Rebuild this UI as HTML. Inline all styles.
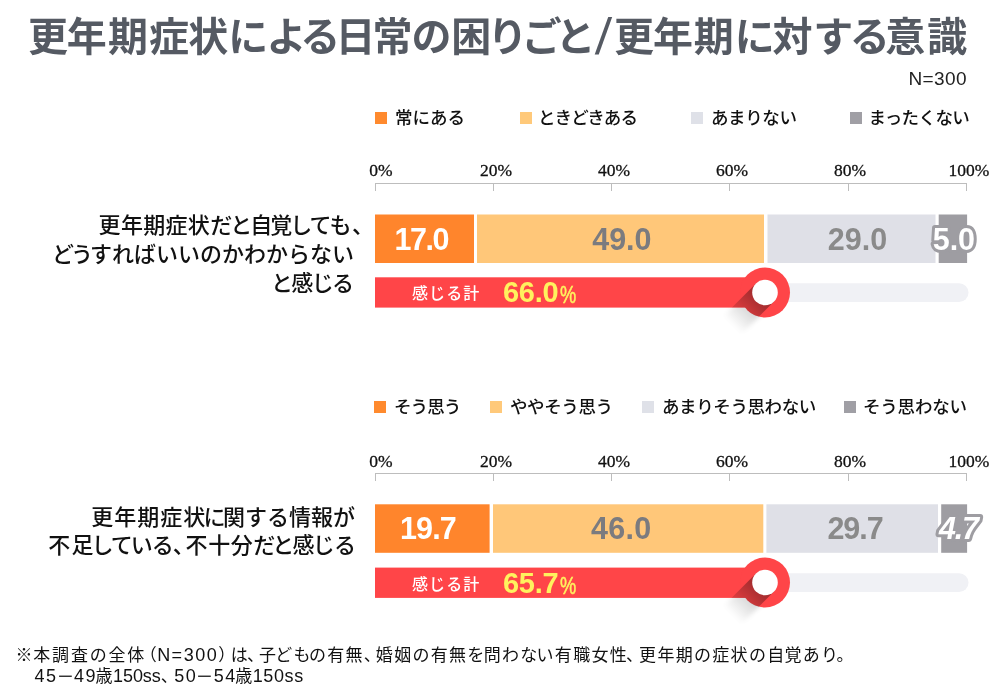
<!DOCTYPE html>
<html lang="ja">
<head>
<meta charset="utf-8">
<title>更年期症状による日常の困りごと/更年期に対する意識</title>
<style>
html,body{margin:0;padding:0;background:#fff;}
body{width:1000px;height:697px;position:relative;overflow:hidden;
 font-family:"Liberation Sans","Noto Sans CJK JP",sans-serif;color:#111;}
.abs{position:absolute;white-space:nowrap;}
.title{left:27.92px;top:9px;font-size:40px;line-height:56px;font-weight:700;color:#555a63;
 font-family:"Liberation Sans","Noto Sans CJK JP",sans-serif;}
.title .sl{display:inline-block;width:17.5px;text-align:center;font-size:51px;line-height:40px;font-weight:400;transform:skewX(-5deg);position:relative;top:3px;text-indent:-1px;}
.n300{right:33px;top:66.5px;font-size:19px;line-height:24px;color:#222;font-weight:400;letter-spacing:0.4px;}
.lg{font-size:17.5px;line-height:24px;font-weight:500;color:#111;}
.sq{position:absolute;width:12px;height:12px;}
.ax{font-family:"Liberation Serif",serif;font-size:17.5px;line-height:18px;color:#111;transform:translateX(-50%);-webkit-text-stroke:0.3px #111;}
.axl{position:absolute;background:#bdbdbd;}
.lab{font-size:22px;line-height:29px;font-weight:500;color:#111;text-align:right;}
.seg{position:absolute;height:48.3px;}
.num{position:absolute;font-family:"Liberation Sans",sans-serif;font-weight:700;font-size:30.5px;line-height:48.3px;text-align:left;white-space:nowrap;}
.otx{font-family:"Liberation Sans",sans-serif;font-weight:700;font-size:30.5px;fill:#fff;stroke:#9e9da2;stroke-width:6px;stroke-linejoin:round;paint-order:stroke fill;}
.kanji{font-size:16px;line-height:30.3px;color:#fff;font-weight:500;letter-spacing:1.1px;}
.pct{font-family:"Liberation Sans",sans-serif;font-weight:700;font-size:29px;line-height:30.3px;color:#fff25e;letter-spacing:-0.3px;}
.pct small{font-size:24px;font-weight:400;display:inline-block;transform:scaleX(.76);transform-origin:0 50%;margin-left:1.5px;position:relative;top:1px;-webkit-text-stroke:0.5px #fff25e;}
.note{font-size:17px;line-height:22px;color:#111;font-weight:400;letter-spacing:1.3px;}
.note .la{letter-spacing:1.5px;font-size:18px;}
.note .cm{letter-spacing:-5px;}
.note .p1{letter-spacing:0.5px;}
.note .p2{letter-spacing:-4.5px;}
.note .mn{display:inline-block;letter-spacing:0;font-size:18px;transform:scaleX(1.45);margin:0 4px 0 2px;}
.note .lb{letter-spacing:-0.1px;font-size:18px;}
</style>
</head>
<body>
<div class="abs title"><span style="letter-spacing:-1.14px">更</span><span style="letter-spacing:1.12px">年</span><span style="letter-spacing:1.15px">期</span><span style="letter-spacing:-0.87px">症</span><span style="letter-spacing:0.00px">状</span><span style="letter-spacing:-1.81px">に</span><span style="letter-spacing:-6.24px">よ</span><span style="letter-spacing:-4.61px">る</span><span style="letter-spacing:-3.02px">日</span><span style="letter-spacing:-1.05px">常</span><span style="letter-spacing:-0.32px">の</span><span style="letter-spacing:-3.63px">困</span><span style="letter-spacing:-5.95px">り</span><span style="letter-spacing:-6.05px">ご</span><span style="letter-spacing:0.00px">と</span><span class="sl" style="margin:0 1.43px 0 -0.55px">/</span><span style="letter-spacing:-1.05px">更</span><span style="letter-spacing:0.77px">年</span><span style="letter-spacing:0.95px">期</span><span style="letter-spacing:-2.05px">に</span><span style="letter-spacing:0.60px">対</span><span style="letter-spacing:-3.55px">す</span><span style="letter-spacing:-4.40px">る</span><span style="letter-spacing:2.05px">意</span><span style="letter-spacing:0.00px">識</span></div>
<div class="abs n300">N=300</div>

<!-- legend 1 -->
<div class="sq" style="left:375px;top:112px;background:#ff8a2e"></div>
<div class="abs lg" style="left:395px;top:105.5px">常にある</div>
<div class="sq" style="left:520px;top:112px;background:#ffc97a"></div>
<div class="abs lg" style="left:538px;top:105.5px;letter-spacing:-0.9px">ときどきある</div>
<div class="sq" style="left:691px;top:112px;background:#dfe1e8"></div>
<div class="abs lg" style="left:711px;top:105.5px;letter-spacing:-0.4px">あまりない</div>
<div class="sq" style="left:850px;top:112px;background:#a09fa5"></div>
<div class="abs lg" style="left:868.5px;top:105.5px;letter-spacing:-0.6px">まったくない</div>

<!-- axis 1 -->
<div class="abs ax" style="left:381px;top:161px">0%</div>
<div class="abs ax" style="left:496px;top:161px">20%</div>
<div class="abs ax" style="left:614px;top:161px">40%</div>
<div class="abs ax" style="left:732px;top:161px">60%</div>
<div class="abs ax" style="left:850px;top:161px">80%</div>
<div class="abs ax" style="left:969px;top:161px">100%</div>
<div class="axl" style="left:375px;top:183px;width:592px;height:1px"></div>
<div class="axl" style="left:375px;top:183px;width:1px;height:8px"></div>
<div class="axl" style="left:493px;top:183px;width:1px;height:8px"></div>
<div class="axl" style="left:611px;top:183px;width:1px;height:8px"></div>
<div class="axl" style="left:729px;top:183px;width:1px;height:8px"></div>
<div class="axl" style="left:848px;top:183px;width:1px;height:8px"></div>
<div class="axl" style="left:966px;top:183px;width:1px;height:8px"></div>

<!-- labels 1 -->
<div class="abs lab" style="right:626px;top:211.2px"><span style="letter-spacing:0.3px">更年期症状</span><span style="letter-spacing:-2px">だと自覚して</span><span style="letter-spacing:0.5px">も</span>、</div>
<div class="abs lab" style="right:646px;top:240px"><span style="letter-spacing:-3px">どう</span><span style="letter-spacing:0px">すればいいのかわからない</span></div>
<div class="abs lab" style="right:647.5px;top:269px"><span style="letter-spacing:-1.6px">と感じる</span></div>

<!-- bar 1 -->
<svg class="abs" style="left:0;top:0" width="1000" height="697"><rect x="375" y="214.5" width="99" height="48.5" fill="#ff852c"/><rect x="477" y="214.5" width="287" height="48.5" fill="#ffc779"/><rect x="767.5" y="214.5" width="168" height="48.5" fill="#dfe0e7"/><rect x="938.7" y="214.5" width="28.4" height="48.5" fill="#9e9da2"/></svg>
<div class="num" style="left:394.6px;top:214.5px;color:#fff;letter-spacing:-1.5px">17.0</div>
<div class="num" style="left:592.2px;top:214.5px;color:#7b7b7f;letter-spacing:0px">49.0</div>
<div class="num" style="left:827.8px;top:214.5px;color:#8a8a8a;letter-spacing:0px">29.0</div>
<svg class="abs" style="left:920px;top:214.5px" width="80" height="48.3"><text class="otx" x="12.7" y="34.9">5.0</text></svg>

<svg class="abs" style="left:370px;top:255px" width="610" height="90" viewBox="370 255 610 90">
 <defs>
  <linearGradient id="sg1" gradientUnits="userSpaceOnUse" x1="758" y1="299.5" x2="732" y2="325.5">
   <stop offset="0" stop-color="#000" stop-opacity=".34"/><stop offset="1" stop-color="#000" stop-opacity="0"/>
  </linearGradient>
  <clipPath id="rc1"><circle cx="765" cy="292.5" r="25"/><rect x="690" y="277.3" width="75" height="30.3"/></clipPath>
  <filter id="bl1" x="-30%" y="-30%" width="160%" height="160%"><feGaussianBlur stdDeviation="2.5"/></filter>
 </defs>
 <rect x="740" y="283.3" width="228.5" height="18.8" rx="9.4" fill="#f0f1f5"/>
 <polygon points="755.95,283.45 774.05,301.55 714.05,361.55 695.95,343.45" fill="url(#sg1)" filter="url(#bl1)" opacity=".7"/>
 <rect x="375" y="277.3" width="390" height="30.3" fill="#ff4548"/>
 <circle cx="765" cy="292.5" r="25" fill="#ff4548"/>
 <polygon points="755.95,283.45 774.05,301.55 714.05,361.55 695.95,343.45" fill="url(#sg1)" clip-path="url(#rc1)"/>
 <circle cx="765" cy="292.5" r="12.8" fill="#fff"/>
</svg>
<div class="abs kanji" style="left:412px;top:279.2px">感じる計</div>
<div class="abs pct" style="left:503px;top:277.2px">66.0<small>%</small></div>

<!-- legend 2 -->
<div class="sq" style="left:374px;top:401px;background:#ff8a2e"></div>
<div class="abs lg" style="left:394px;top:395px;letter-spacing:-0.9px">そう思う</div>
<div class="sq" style="left:490px;top:401px;background:#ffc97a"></div>
<div class="abs lg" style="left:510px;top:395px;letter-spacing:-0.4px">ややそう思う</div>
<div class="sq" style="left:642px;top:401px;background:#dfe1e8"></div>
<div class="abs lg" style="left:662px;top:395px;letter-spacing:-0.4px">あまりそう思わない</div>
<div class="sq" style="left:844px;top:401px;background:#a09fa5"></div>
<div class="abs lg" style="left:863px;top:395px;letter-spacing:-0.2px">そう思わない</div>

<!-- axis 2 -->
<div class="abs ax" style="left:381px;top:451.5px">0%</div>
<div class="abs ax" style="left:496px;top:451.5px">20%</div>
<div class="abs ax" style="left:614px;top:451.5px">40%</div>
<div class="abs ax" style="left:732px;top:451.5px">60%</div>
<div class="abs ax" style="left:850px;top:451.5px">80%</div>
<div class="abs ax" style="left:969px;top:451.5px">100%</div>
<div class="axl" style="left:375px;top:473px;width:592px;height:1px"></div>
<div class="axl" style="left:375px;top:473px;width:1px;height:8px"></div>
<div class="axl" style="left:493px;top:473px;width:1px;height:8px"></div>
<div class="axl" style="left:611px;top:473px;width:1px;height:8px"></div>
<div class="axl" style="left:729px;top:473px;width:1px;height:8px"></div>
<div class="axl" style="left:848px;top:473px;width:1px;height:8px"></div>
<div class="axl" style="left:966px;top:473px;width:1px;height:8px"></div>

<!-- labels 2 -->
<div class="abs lab" style="right:645px;top:502.5px"><span style="letter-spacing:1px">更年期症</span><span style="letter-spacing:-1.6px">状</span><span style="letter-spacing:-2.6px">に</span>関する情報が</div>
<div class="abs lab" style="right:644px;top:531px"><span style="letter-spacing:1.2px">不</span><span style="letter-spacing:-2px">足して</span><span style="letter-spacing:-1px">いる</span><span style="letter-spacing:-9.2px">、</span><span style="letter-spacing:0.6px">不十分</span><span style="letter-spacing:-3.2px">だ</span><span style="letter-spacing:-1.7px">と感</span><span style="letter-spacing:-0.8px">じ</span>る</div>

<!-- bar 2 -->
<svg class="abs" style="left:0;top:0" width="1000" height="697"><rect x="375" y="504.3" width="114.6" height="48.5" fill="#ff852c"/><rect x="493" y="504.3" width="270.3" height="48.5" fill="#ffc779"/><rect x="766.4" y="504.3" width="171.6" height="48.5" fill="#dfe0e7"/><rect x="941.2" y="504.3" width="25.9" height="48.5" fill="#9e9da2"/></svg>
<div class="num" style="left:400px;top:504.2px;color:#fff;letter-spacing:-0.9px">19.7</div>
<div class="num" style="left:591px;top:504.2px;color:#7b7b7f;letter-spacing:0.3px">46.0</div>
<div class="num" style="left:827.4px;top:504.2px;color:#8a8a8a;letter-spacing:-1px">29.7</div>
<svg class="abs" style="left:920px;top:504.2px" width="80" height="48.3"><text class="otx" x="19" y="34.9" font-style="italic" letter-spacing="-1.2">4.7</text></svg>

<svg class="abs" style="left:370px;top:545px" width="610" height="90" viewBox="370 545 610 90">
 <defs>
  <linearGradient id="sg2" gradientUnits="userSpaceOnUse" x1="758" y1="589.5" x2="732" y2="615.5">
   <stop offset="0" stop-color="#000" stop-opacity=".34"/><stop offset="1" stop-color="#000" stop-opacity="0"/>
  </linearGradient>
  <clipPath id="rc2"><circle cx="765" cy="582.5" r="25"/><rect x="690" y="567.6" width="75" height="30.3"/></clipPath>
  <filter id="bl2" x="-30%" y="-30%" width="160%" height="160%"><feGaussianBlur stdDeviation="2.5"/></filter>
 </defs>
 <rect x="740" y="573.3" width="228.5" height="18.8" rx="9.4" fill="#f0f1f5"/>
 <polygon points="755.95,573.45 774.05,591.55 714.05,651.55 695.95,633.45" fill="url(#sg2)" filter="url(#bl2)" opacity=".7"/>
 <rect x="375" y="567.6" width="390" height="30.3" fill="#ff4548"/>
 <circle cx="765" cy="582.5" r="25" fill="#ff4548"/>
 <polygon points="755.95,573.45 774.05,591.55 714.05,651.55 695.95,633.45" fill="url(#sg2)" clip-path="url(#rc2)"/>
 <circle cx="765" cy="582.5" r="12.8" fill="#fff"/>
</svg>
<div class="abs kanji" style="left:412px;top:569.5px">感じる計</div>
<div class="abs pct" style="left:503px;top:567.5px">65.7<small>%</small></div>

<!-- notes -->
<div class="abs note" style="left:15.5px;top:644px"><span style="letter-spacing:0.8px">※</span><span style="letter-spacing:1.8px">本調査の全</span><span style="letter-spacing:-4.7px">体</span><span class="p1">（</span><span class="la">N=300</span><span class="p2">）</span><span style="letter-spacing:-0.7px">は</span><span class="cm">、</span><span style="letter-spacing:-0.7px">子</span>ど<span style="letter-spacing:-1.7px">も</span>の有無<span class="cm">、</span>婚姻の有無<span style="letter-spacing:-0.7px">を</span>問わ<span style="letter-spacing:-0.7px">な</span>い有職女<span style="letter-spacing:-0.7px">性</span><span class="cm" style="letter-spacing:-4px">、</span>更年期の症状の<span style="letter-spacing:0.3px">自</span>覚あ<span style="letter-spacing:-1.7px">り</span>。</div>
<div class="abs note" style="left:34.5px;top:665px"><span class="la">45</span><span class="mn">−</span><span class="la">4<span style="letter-spacing:0">9</span></span><span style="letter-spacing:0.5px">歳</span><span class="lb">150ss</span><span class="cm" style="letter-spacing:-3.5px">、</span><span class="la">50</span><span class="mn">−</span><span class="la">5<span style="letter-spacing:0">4</span></span><span style="letter-spacing:0.5px">歳</span><span class="lb" style="letter-spacing:0.6px">150ss</span></div>
</body>
</html>
